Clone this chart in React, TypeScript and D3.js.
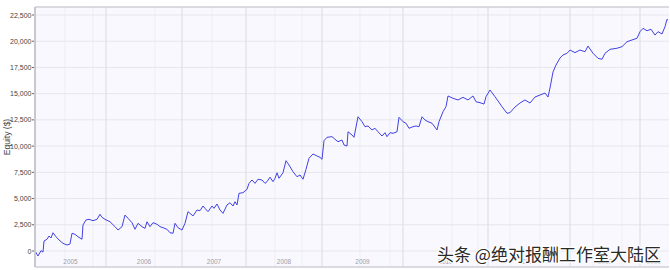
import React from "react";
import * as d3 from "d3";

// trade number (x) and equity ($)
const trades = [
  0, 3, 6, 8, 9, 12, 14, 16, 18, 21, 24, 28, 32, 35, 37, 40, 43, 47, 48, 51, 54, 58, 62, 65, 67, 70,
  75, 80, 83, 87, 90, 93, 97, 100, 103, 107, 110, 112, 115, 118, 122, 125, 128, 132, 135, 138, 140,
  143, 147, 150, 153, 155, 158, 162, 165, 168, 170, 173, 177, 179, 182, 185, 188, 192, 195, 198, 200,
  202, 204, 208, 212, 214, 217, 220, 223, 227, 230, 232, 235, 238, 240, 242, 244, 248, 251, 254, 258,
  262, 265, 268, 271, 274, 278, 282, 285, 287, 289, 292, 297, 300, 303, 307, 309, 312, 313, 317, 319,
  323, 327, 330, 333, 337, 340, 343, 347, 350, 352, 355, 358, 362, 364, 368, 371, 374, 378, 381, 384,
  387, 390, 393, 397, 402, 404, 408, 411, 413, 418, 423, 428, 433, 438, 441, 445, 449, 451, 455, 460,
  467, 472, 475, 480, 485, 490, 495, 500, 505, 510, 513, 515, 518, 521, 525, 528, 532, 535, 540, 545,
  550, 553, 558, 563, 567, 570, 575, 582, 587, 592, 597, 602, 605, 608, 612, 616, 620, 623, 627, 630,
  632, 633,
];
const equity = [
  0, -480, 30, -100, 950, 1120, 1430, 1240, 1740, 1360, 1050, 730, 570, 670, 1690, 1590, 1360, 1120,
  2480, 2960, 3020, 2890, 3020, 3500, 3210, 3020, 2790, 2320, 2000, 2320, 3430, 3120, 2700, 2070,
  2640, 2320, 2160, 2790, 2320, 2700, 2550, 2320, 2220, 2070, 1740, 1690, 2640, 2220, 2000, 2640,
  3750, 3590, 3340, 3910, 3840, 4290, 4070, 3750, 4290, 4070, 4480, 3910, 3590, 4390, 4600, 4290,
  4700, 4390, 5500, 5560, 5880, 6450, 6770, 6450, 6840, 6770, 6450, 6610, 7030, 6610, 6930, 7460,
  6930, 7460, 8610, 8200, 7560, 7080, 7250, 6840, 7790, 8840, 9250, 9060, 8930, 8740, 10520, 10840,
  10900, 10650, 10420, 10580, 10110, 10010, 11370, 11060, 10840, 12800, 12330, 11850, 11920, 11540,
  11700, 11370, 10960, 11280, 10900, 11280, 11220, 11370, 12750, 12330, 12180, 11700, 11850, 11920,
  11850, 12800, 12490, 12330, 12180, 11540, 12330, 13280, 13760, 14780, 14560, 14400, 14650, 14400,
  14780, 14230, 14140, 14010, 14710, 15350, 14710, 13760, 13130, 13190, 13730, 14110, 14400, 14110,
  14680, 14870, 15060, 14680, 15540, 17070, 17730, 18400, 18690, 18850, 19160, 18910, 19160, 19000,
  19540, 18850, 18370, 18280, 18850, 19230, 19330, 19480, 19950, 20120, 20280, 20910, 21230, 21000,
  21140, 20590, 20910, 20690, 21390, 22090, 22000,
];

const yTicks = [0, 2500, 5000, 7500, 10000, 12500, 15000, 17500, 20000, 22500];
const years = ["2005", "2006", "2007", "2008", "2009", "2010", "2011", "2012", "2013"];
const yearStarts = [0, 71, 147, 211, 287, 368, 453, 535, 605];
const minorLines = [30, 58, 120, 177, 240, 267, 325, 355, 417, 443, 475, 505, 558, 587];
const lastTrade = 633;
const watermark = "头条 @绝对报酬工作室大陆区";

export default function App() {
  const left = 35, right = 669, top = 7, bottom = 267;
  const x = d3.scaleLinear().domain([0, lastTrade]).range([left, 668]);
  const y = d3.scaleLinear().domain([0, 22500]).range([251, 15]);
  const data = trades.map((t, i) => [t, equity[i]] as [number, number]);
  const line = d3.line<[number, number]>().x((d) => x(d[0])).y((d) => y(d[1]));
  const fmt = d3.format(",");
  const bounds = [...yearStarts, lastTrade];

  return (
    <svg
      width={670}
      height={270}
      style={{ position: "absolute", left: 0, top: 0, background: "#fff" }}
      fontFamily="'Liberation Sans', Arial, sans-serif"
    >
      <rect x={left} y={top} width={right - left} height={bottom - top} fill="#f8f8fe" />
      {minorLines.map((t) => (
        <line key={"m" + t} x1={x(t)} x2={x(t)} y1={top} y2={bottom} stroke="#ededf5" strokeWidth={1} />
      ))}
      {yTicks.map((v) => (
        <line key={"h" + v} x1={left} x2={right} y1={y(v)} y2={y(v)} stroke="#e6e6ef" strokeWidth={1} />
      ))}
      {yearStarts.slice(1).map((t) => (
        <line key={"v" + t} x1={x(t)} x2={x(t)} y1={top} y2={bottom} stroke="#e0e0e8" strokeWidth={1.2} />
      ))}
      <path d={line(data) || ""} fill="none" stroke="#4242e4" strokeWidth={1} strokeLinejoin="round" />
      {/* frame */}
      <line x1={left} x2={right} y1={top} y2={top} stroke="#cfcfd6" strokeWidth={1.5} />
      <line x1={left} x2={right} y1={bottom} y2={bottom} stroke="#cfcfd6" strokeWidth={1.5} />
      <line x1={left} x2={left} y1={top} y2={bottom} stroke="#c8c8cf" strokeWidth={2} />
      {yTicks.map((v) => (
        <g key={"t" + v}>
          <line x1={left - 3} x2={left - 1} y1={y(v)} y2={y(v)} stroke="#666" strokeWidth={1} />
          <text x={31.5} y={y(v) + 2.5} textAnchor="end" fontSize={7} fill="#444">
            {fmt(v)}
          </text>
        </g>
      ))}
      {years.map((yr, i) => (
        <text
          key={yr}
          x={(x(bounds[i]) + x(bounds[i + 1])) / 2}
          y={264}
          textAnchor="middle"
          fontSize={6.5}
          fill="#a0a0a8"
        >
          {yr}
        </text>
      ))}
      <text
        transform={`translate(9.5,${(top + bottom) / 2}) rotate(-90)`}
        textAnchor="middle"
        fontSize={8.5}
        fill="#444"
      >
        Equity ($)
      </text>
      <text
        x={437}
        y={261}
        fontSize={17}
        fontFamily="'Noto Sans CJK SC', sans-serif"
        fill="#2a2a2a"
        stroke="#ffffff"
        strokeWidth={2.5}
        paintOrder="stroke"
      >
        {watermark}
      </text>
    </svg>
  );
}
